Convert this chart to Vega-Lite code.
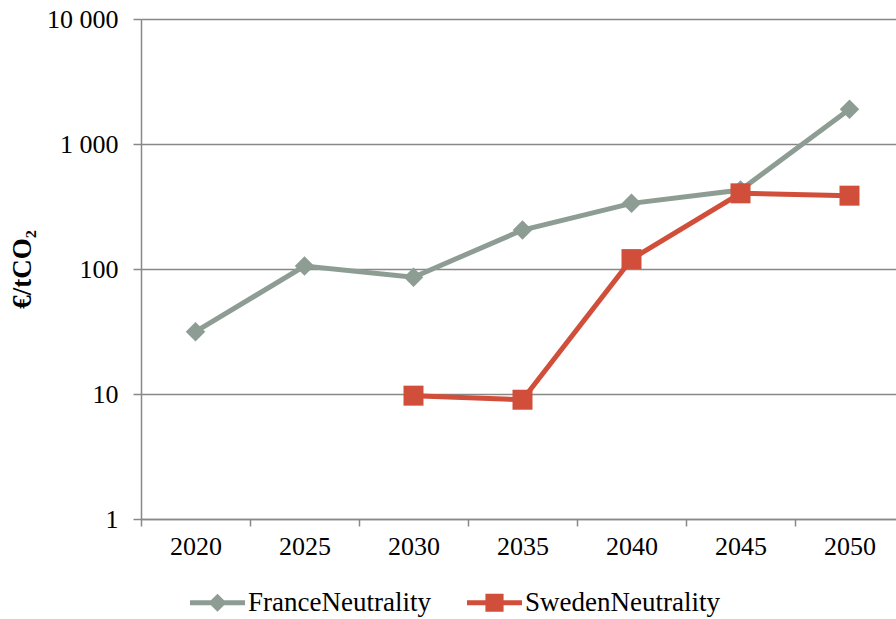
{
  "$schema": "https://vega.github.io/schema/vega-lite/v6.json",
  "width": 763,
  "height": 500,
  "autosize": {"type": "none"},
  "padding": {"left": 141, "top": 19, "right": 0, "bottom": 100},
  "background": "white",
  "config": {
    "view": {"stroke": null},
    "font": "Liberation Serif"
  },
  "data": {
    "values": [
      {"year": "2020", "series": "FranceNeutrality", "value": 31.5},
      {"year": "2025", "series": "FranceNeutrality", "value": 105.5},
      {"year": "2030", "series": "FranceNeutrality", "value": 86},
      {"year": "2035", "series": "FranceNeutrality", "value": 205},
      {"year": "2040", "series": "FranceNeutrality", "value": 335},
      {"year": "2045", "series": "FranceNeutrality", "value": 428},
      {"year": "2050", "series": "FranceNeutrality", "value": 1895},
      {"year": "2030", "series": "SwedenNeutrality", "value": 9.7},
      {"year": "2035", "series": "SwedenNeutrality", "value": 9.0},
      {"year": "2040", "series": "SwedenNeutrality", "value": 120},
      {"year": "2045", "series": "SwedenNeutrality", "value": 403},
      {"year": "2050", "series": "SwedenNeutrality", "value": 386}
    ]
  },
  "encoding": {
    "x": {
      "field": "year",
      "type": "ordinal",
      "scale": {"type": "band", "paddingInner": 0, "paddingOuter": 0},
      "axis": {
        "title": null,
        "labelAngle": 0,
        "labelFont": "Liberation Serif",
        "labelFontSize": 26,
        "labelColor": "black",
        "labelPadding": 7,
        "tickBand": "extent",
        "tickSize": 7,
        "tickColor": "#888888",
        "tickWidth": 1.5,
        "domainColor": "#888888",
        "domainWidth": 1.5,
        "grid": false
      }
    },
    "y": {
      "field": "value",
      "type": "quantitative",
      "scale": {"type": "log", "domain": [1, 10000], "nice": false},
      "axis": {
        "title": "€/tCO₂",
        "titleFont": "Liberation Serif",
        "titleFontSize": 27,
        "titleFontWeight": "bold",
        "titleColor": "black",
        "titlePadding": 10,
        "values": [1, 10, 100, 1000, 10000],
        "labelExpr": "datum.value == 10000 ? '10 000' : datum.value == 1000 ? '1 000' : datum.label",
        "labelFont": "Liberation Serif",
        "labelFontSize": 26,
        "labelColor": "black",
        "labelPadding": 15,
        "tickSize": 8,
        "tickColor": "#888888",
        "tickWidth": 1.5,
        "domainColor": "#888888",
        "domainWidth": 1.5,
        "grid": true,
        "gridColor": "#888888",
        "gridWidth": 1.5
      }
    },
    "color": {
      "field": "series",
      "type": "nominal",
      "scale": {"domain": ["FranceNeutrality", "SwedenNeutrality"], "range": ["#8D9D93", "#D14F3A"]},
      "legend": {
        "title": null,
        "orient": "none",
        "direction": "horizontal",
        "legendX": 49,
        "legendY": 556,
        "symbolSize": 3025,
        "symbolStrokeWidth": 0,
        "labelFont": "Liberation Serif",
        "labelFontSize": 27,
        "labelColor": "black",
        "labelLimit": 500,
        "labelOffset": 3,
        "columnPadding": 36,
        "encode": {
          "symbols": {
            "update": {
              "shape": {"signal": "datum.value === 'FranceNeutrality' ? 'M-1,-0.09L1,-0.09L1,0.09L-1,0.09Z M0,-0.33L0.33,0L0,0.33L-0.33,0Z' : 'M-1,-0.09L1,-0.09L1,0.09L-1,0.09Z M-0.33,-0.33L0.33,-0.33L0.33,0.33L-0.33,0.33Z'"},
              "size": {"value": 3025},
              "fill": {"scale": "color", "field": "value"},
              "fillOpacity": {"value": 1},
              "opacity": {"value": 1},
              "strokeWidth": {"value": 0}
            }
          }
        }
      }
    }
  },
  "layer": [
    {
      "mark": {"type": "line", "strokeWidth": 5}
    },
    {
      "transform": [{"filter": "datum.series === 'FranceNeutrality'"}],
      "mark": {"type": "point", "filled": true, "opacity": 1, "strokeWidth": 0, "shape": "diamond", "size": 380}
    },
    {
      "transform": [{"filter": "datum.series === 'SwedenNeutrality'"}],
      "mark": {"type": "point", "filled": true, "opacity": 1, "strokeWidth": 0, "shape": "square", "size": 400}
    }
  ]
}
